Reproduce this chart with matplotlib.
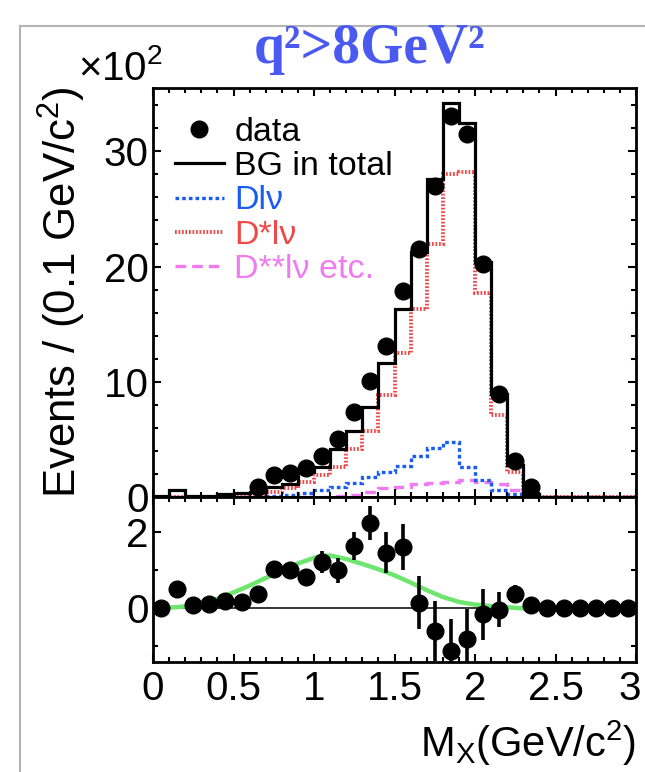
"""
M_X distribution for q^2 > 8 GeV^2: data vs. background components,
with the pull-like residual panel underneath.
"""

import matplotlib

matplotlib.use("Agg")
import matplotlib.pyplot as plt
import numpy as np
from matplotlib.lines import Line2D
from matplotlib.transforms import ScaledTranslation
from matplotlib.ticker import FormatStrFormatter, MultipleLocator

plt.rcParams["font.family"] = ["Liberation Sans", "DejaVu Sans"]
plt.rcParams["mathtext.fontset"] = "custom"
plt.rcParams["mathtext.rm"] = "Liberation Sans"
plt.rcParams["mathtext.it"] = "Liberation Sans:italic"

# ---- data (bins of 0.1 GeV/c^2 from 0 to 3, values in units of 10^2 events) ----
bin_edges = np.linspace(0.0, 3.0, 31)
bin_centers = 0.5 * (bin_edges[:-1] + bin_edges[1:])

data_vals = [0, 0, 0, 0, 0, 0, 0.9, 1.9, 2.06, 2.55,
             3.6, 5.0, 7.35, 10.1, 13.1, 17.85, 21.5, 27.0, 33.1, 31.5,
             20.2, 8.9, 3.1, 0.9, 0, 0, 0, 0, 0, 0]
bg_total = [0.05, 0.6, 0.05, 0.1, 0.3, 0.35, 0.45, 0.9, 1.15, 2.2,
            2.6, 4.2, 5.7, 7.85, 11.6, 16.3, 21.3, 27.6, 34.2, 32.5,
            20.4, 8.9, 2.8, 0.3, 0, 0, 0, 0, 0, 0]
d_lnu = [0, 0, 0, 0, 0, 0, 0, 0.05, 0.15, 0.35,
         0.6, 0.9, 1.2, 1.7, 2.2, 2.7, 3.6, 4.25, 4.8, 2.6,
         1.5, 0.6, 0.3, 0, 0, 0, 0, 0, 0, 0]
dstar_lnu = [0, 0, 0, 0, 0, 0, 0.1, 0.4, 0.75, 1.33,
             1.9, 2.6, 4.2, 5.7, 8.85, 12.5, 16.3, 22.0, 28.0, 28.2,
             17.7, 7.1, 2.2, 0.2, 0, 0, 0, 0, 0, 0]
dstarstar_lnu = [0, 0, 0, 0, 0, 0, 0, 0, 0, 0,
                 0, 0.05, 0.2, 0.45, 0.8, 0.9, 1.15, 1.25, 1.3, 1.45,
                 1.3, 1.15, 0.6, 0.15, 0, 0, 0, 0, 0, 0]

pull_vals = [0.02, 0.52, 0.08, 0.12, 0.19, 0.17, 0.37, 1.04, 1.01, 0.82,
             1.22, 1.0, 1.64, 2.25, 1.47, 1.61, 0.15, -0.6, -1.12, -0.8,
             -0.16, -0.03, 0.37, 0.1, 0.02, 0.0, 0.0, 0.0, 0.0, 0.0]
pull_errs = [0.05, 0.1, 0.05, 0.05, 0.08, 0.1, 0.12, 0.15, 0.18, 0.22,
             0.28, 0.32, 0.38, 0.45, 0.53, 0.61, 0.69, 0.79, 0.83, 0.79,
             0.67, 0.45, 0.24, 0.12, 0.05, 0, 0, 0, 0, 0]

curve_x = [0.0, 0.1, 0.2, 0.3, 0.4, 0.5, 0.6, 0.7, 0.8, 0.9, 1.0, 1.05, 1.1,
           1.2, 1.3, 1.4, 1.5, 1.6, 1.7, 1.8, 1.9, 2.0, 2.1, 2.2, 2.3]
curve_y = [0.02, 0.02, 0.05, 0.12, 0.25, 0.42, 0.6, 0.8, 1.0, 1.18, 1.33, 1.38, 1.39,
           1.3, 1.17, 1.03, 0.87, 0.68, 0.48, 0.3, 0.17, 0.1, 0.06, 0.03, 0.0]

x_ticklabels = ["0", "0.5", "1", "1.5", "2", "2.5", "3"]

# ---- colours ----
C_DATA = "black"
C_D = "#1a5cf2"
C_DSTAR = "#f04848"
C_DSS = "#f07af0"
C_FIT = "#6ee66e"
C_TITLE = "#4a5af0"

W, H = 645, 772
fig = plt.figure(figsize=(W / 100, H / 100), dpi=100)

ax_top = fig.add_axes([153 / W, 1 - 497 / H, 483 / W, 409 / H])
ax_bot = fig.add_axes([153 / W, 1 - 662 / H, 483 / W, 165 / H])

# ---- upper panel ----
ax_top.stairs(dstarstar_lnu, bin_edges, color=C_DSS, lw=2.4, linestyle=(0, (3.2, 1.8)))
ax_top.stairs(d_lnu, bin_edges, color=C_D, lw=2.4, linestyle=(0, (1.1, 0.9)))
ax_top.stairs(dstar_lnu, bin_edges, color=C_DSTAR, lw=2.8, linestyle=(0, (0.45, 0.45)))
ax_top.stairs(bg_total, bin_edges, color="black", lw=2.3)

data_arr = np.array(data_vals)
mask = data_arr > 0
ax_top.plot(bin_centers[mask], data_arr[mask], "o", color=C_DATA, ms=12, zorder=5)

ax_top.set_xlim(0, 3)
ax_top.set_ylim(0, 35.5)
ax_top.xaxis.set_major_locator(MultipleLocator(0.5))
ax_top.xaxis.set_minor_locator(MultipleLocator(0.1))
ax_top.yaxis.set_major_locator(MultipleLocator(10))
ax_top.yaxis.set_minor_locator(MultipleLocator(2))
ax_top.tick_params(axis="x", labelbottom=False)

handles = [
    Line2D([], [], marker="o", ls="none", color=C_DATA, ms=12),
    Line2D([], [], color="black", lw=2.3),
    Line2D([], [], color=C_D, lw=2.4, linestyle=(0, (1.1, 0.9))),
    Line2D([], [], color=C_DSTAR, lw=2.8, linestyle=(0, (0.45, 0.45))),
    Line2D([], [], color=C_DSS, lw=2.4, linestyle=(0, (3.2, 1.8))),
]
labels = ["data", "BG in total", "Dl\u03bd", "D*l\u03bd", "D**l\u03bd etc."]
ax_top.legend(
    handles,
    labels,
    loc="upper left",
    bbox_to_anchor=(0.045, 0.93),
    frameon=False,
    fontsize=24.5,
    labelcolor=["black", "black", C_D, C_DSTAR, C_DSS],
    handlelength=1.45,
    handletextpad=0.3,
    labelspacing=0.1,
    borderpad=0,
    borderaxespad=0,
)

# ---- lower panel ----
ax_bot.axhline(0, color="black", lw=1.1, zorder=1)
ax_bot.plot(curve_x, curve_y, color=C_FIT, lw=3.2, zorder=2)
ax_bot.errorbar(bin_centers, pull_vals, yerr=pull_errs, fmt="o", color="black",
                ms=12, elinewidth=2.6, capsize=0, zorder=3)

ax_bot.set_xlim(0, 3)
ax_bot.set_ylim(-1.41, 2.93)
ax_bot.xaxis.set_minor_locator(MultipleLocator(0.1))
ax_bot.yaxis.set_major_locator(MultipleLocator(2))
ax_bot.yaxis.set_minor_locator(MultipleLocator(1))
ax_bot.set_xticks(np.arange(0, 3.01, 0.5))
ax_bot.set_xticklabels(x_ticklabels)

for ax in (ax_top, ax_bot):
    ax.tick_params(which="both", direction="in", top=True, right=True,
                   width=1.5, labelsize=29)
    ax.tick_params(which="major", length=6)
    ax.tick_params(which="minor", length=3.5)
    ax.tick_params(axis="y", pad=3)
    ax.tick_params(axis="x", pad=6)
    for spine in ax.spines.values():
        spine.set_linewidth(2.0)

ax_top.yaxis.set_major_formatter(FormatStrFormatter("%d"))
ax_bot.yaxis.set_major_formatter(FormatStrFormatter("%d"))

# keep the last x label inside the canvas, as in the original
last = ax_bot.get_xticklabels()[-1]
last.set_transform(last.get_transform() + ScaledTranslation(-6 / 100, 0, fig.dpi_scale_trans))

# ---- labels ----
fig.text(62 / W, 1 - 292 / H, "Events / (0.1 GeV/c$^{2}$)", rotation=90,
         ha="center", va="center", fontsize=31.5)
fig.text(636 / W, 1 - 757 / H, "M$_{\\mathrm{X}}$(GeV/c$^{2}$)", ha="right",
         va="baseline", fontsize=30)
fig.text(78 / W, 1 - 80 / H, "\u00d710$^{2}$", ha="left", va="baseline", fontsize=29)
fig.text(254 / W, 1 - 63 / H, "q\u00b2>8GeV\u00b2", ha="left", va="baseline",
         fontsize=40, fontweight="bold", color=C_TITLE,
         family=["Liberation Serif", "DejaVu Serif"])

# slide border
fig.add_artist(Line2D([20 / W, 20 / W], [0, 1 - 26 / H], transform=fig.transFigure,
                      color="#b5b5b5", lw=1.5))
fig.add_artist(Line2D([20 / W, 1], [1 - 26 / H, 1 - 26 / H], transform=fig.transFigure,
                      color="#b5b5b5", lw=1.5))

fig.savefig("out.png", dpi=100)
